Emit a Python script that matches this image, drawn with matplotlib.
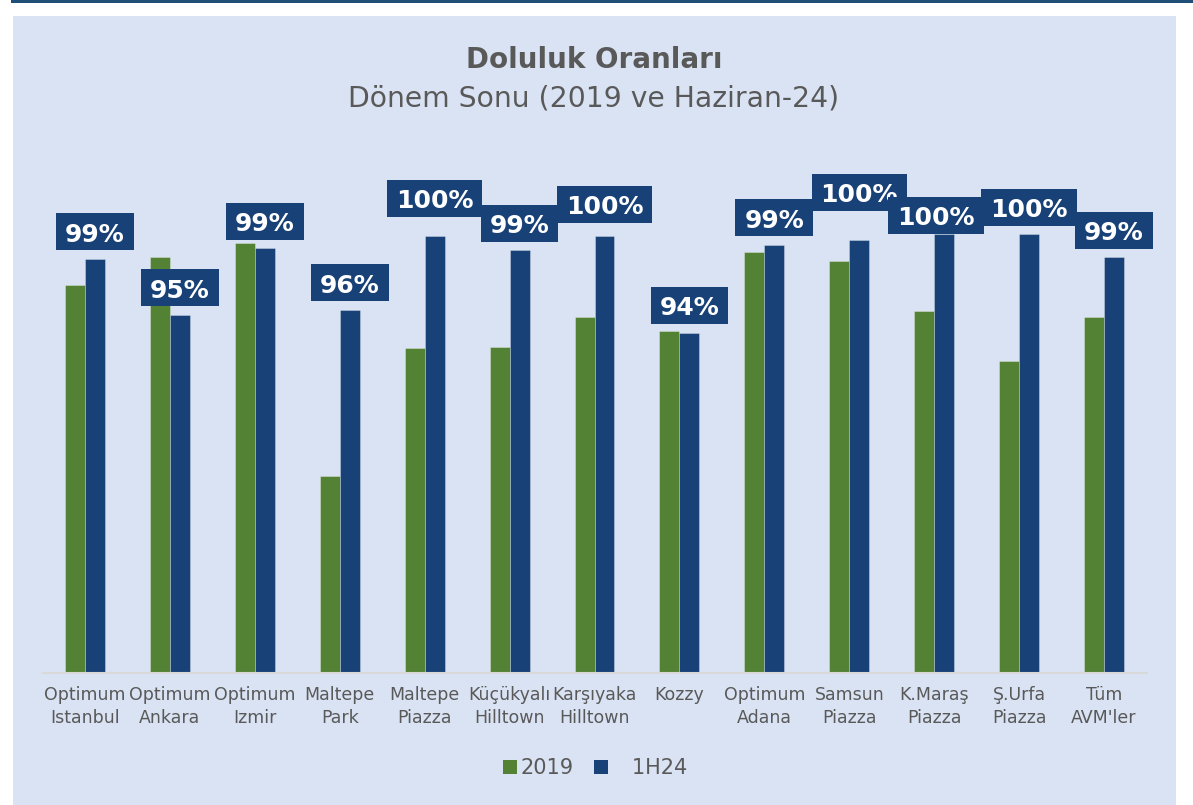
import matplotlib
matplotlib.use("Agg")
import matplotlib.pyplot as plt
import matplotlib.patches as mpatches
from matplotlib.transforms import IdentityTransform
import numpy as np

# ---------------- data ----------------
categories = ["Optimum\nIstanbul", "Optimum\nAnkara", "Optimum\nIzmir", "Maltepe\nPark",
              "Maltepe\nPiazza", "Küçükyalı\nHilltown", "Karşıyaka\nHilltown", "Kozzy",
              "Optimum\nAdana", "Samsun\nPiazza", "K.Maraş\nPiazza", "Ş.Urfa\nPiazza",
              "Tüm\nAVM'ler"]
vals_2019 = [97.1, 98.7, 99.5, 86.2, 93.5, 93.6, 95.3, 94.5, 99.0, 98.5, 95.6, 92.8, 95.3]
vals_1h24 = [98.6, 95.4, 99.2, 95.7, 99.9, 99.1, 99.9, 94.4, 99.4, 99.7, 100.0, 100.0, 98.7]
series_names = ["2019", "1H24"]
title = "Doluluk Oranları"
subtitle = "Dönem Sonu (2019 ve Haziran-24)"

# ---------------- style ----------------
BG = "#dae3f3"
TOPLINE = "#1f4e79"
GREEN = "#548235"
BLUE = "#174177"
TXT = "#595959"
# extra label offsets in pixels (to mimic the manual label placement)
label_dy_px = [0, 0, 0, 0, 10.5, 0, 5, 0, 0, 20.5, -8, 0, 0]
label_dx_px = [0, 0, 0, 0, 0, 0, 0, 0, 0, 0, -8, 0, 0]

W, H = 1193, 805
fig = plt.figure(figsize=(W / 100, H / 100), dpi=100)
fig.patch.set_facecolor("white")

fig.add_artist(mpatches.Rectangle((13 / W, 0), (1176 - 13) / W, (H - 16) / H,
                                  transform=fig.transFigure, facecolor=BG,
                                  edgecolor="none", zorder=-5))
fig.add_artist(mpatches.Rectangle((11 / W, (H - 3) / H), (W - 11) / W, 3 / H,
                                  transform=fig.transFigure, facecolor=TOPLINE,
                                  edgecolor="none", zorder=-4))

ax = fig.add_axes([42.5 / W, (H - 673) / H, 1104 / W, 526.5 / H])
ax.set_facecolor("none")

n = len(categories)
x = np.arange(n)
bw = 0.2355
ax.bar(x - bw / 2, vals_2019, bw, color=GREEN, edgecolor=(1, 1, 1, 0.3), linewidth=0.7,
       label=series_names[0], zorder=2)
ax.bar(x + bw / 2, vals_1h24, bw, color=BLUE, edgecolor=(1, 1, 1, 0.3), linewidth=0.7,
       label=series_names[1], zorder=2)
ax.set_xlim(-0.5, n - 0.5)
ax.set_ylim(75, 105)

for s in ["top", "right", "left"]:
    ax.spines[s].set_visible(False)
ax.spines["bottom"].set_color("#d9d9d9")
ax.spines["bottom"].set_linewidth(1.5)
ax.set_yticks([])
ax.set_xticks(x, categories)
ax.tick_params(axis="x", length=0, pad=9, labelsize=12.5, labelcolor=TXT)
for lab in ax.get_xticklabels():
    lab.set_linespacing(1.4)

# titles
fig.text(594.5 / W, 1 - 68 / H, title, ha="center", va="baseline", fontsize=20,
         fontweight="bold", color=TXT)
fig.text(593.5 / W, 1 - 106.7 / H, subtitle, ha="center", va="baseline", fontsize=20.3,
         color=TXT)

# data labels (boxed)
renderer = fig.canvas.get_renderer()
for i in range(n):
    v = vals_1h24[i]
    px, py = ax.transData.transform((x[i] + bw / 2, v))
    cx = px + label_dx_px[i]
    box_bottom = py + 8.5 + label_dy_px[i]
    t = fig.text(cx, box_bottom + 8.7, f"{round(v):.0f}%", transform=IdentityTransform(),
                 ha="center", va="baseline", fontsize=18, fontweight="bold",
                 color="white", zorder=11 + 2 * i)
    tw = t.get_window_extent(renderer).width
    fig.add_artist(mpatches.Rectangle((cx - tw / 2 - 9, box_bottom), tw + 18, 37,
                                      transform=IdentityTransform(), facecolor=BLUE,
                                      edgecolor="none", zorder=10 + 2 * i))

# legend
handles = [mpatches.Patch(facecolor=GREEN), mpatches.Patch(facecolor=BLUE)]
fig.legend(handles, [series_names[0], "   " + series_names[1]], loc="center",
           bbox_to_anchor=(595 / W, 1 - 768 / H), ncol=2, frameon=False, fontsize=15,
           handlelength=0.67, handleheight=0.67, handletextpad=0.2, columnspacing=0.96,
           labelcolor=TXT)

fig.savefig("out.png", dpi=100, facecolor=fig.get_facecolor())
